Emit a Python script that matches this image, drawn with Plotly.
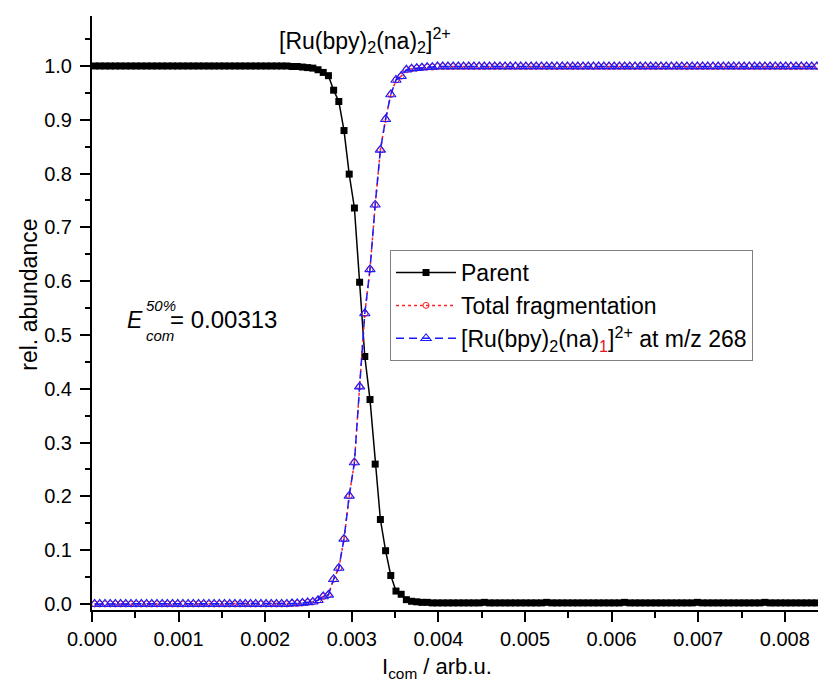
import plotly.graph_objects as go

# Collision energy grid, in units of 1e-5 arb.u.
i_com_e5 = [
    3, 9, 15, 21, 27, 33, 39, 45, 51, 57,
    63, 69, 75, 81, 87, 93, 99, 105, 111, 117,
    123, 129, 135, 141, 147, 153, 159, 165, 171, 177,
    183, 189, 195, 201, 207, 213, 219, 225, 231, 237,
    243, 249, 255, 261, 267, 273, 279, 285, 291, 297,
    303, 309, 315, 321, 327, 333, 339, 345, 351, 357,
    363, 369, 375, 381, 387, 393, 399, 405, 411, 417,
    423, 429, 435, 441, 447, 453, 459, 465, 471, 477,
    483, 489, 495, 501, 507, 513, 519, 525, 531, 537,
    543, 549, 555, 561, 567, 573, 579, 585, 591, 597,
    603, 609, 615, 621, 627, 633, 639, 645, 651, 657,
    663, 669, 675, 681, 687, 693, 699, 705, 711, 717,
    723, 729, 735, 741, 747, 753, 759, 765, 771, 777,
    783, 789, 795, 801, 807, 813, 819, 825, 831, 837,
]
i_com = [v * 1e-5 for v in i_com_e5]

parent = [
    1.0, 1.0, 1.0, 1.0, 1.0, 1.0, 1.0, 1.0, 1.0, 1.0,
    1.0, 1.0, 1.0, 1.0, 1.0, 1.0, 1.0, 1.0, 1.0, 1.0,
    1.0, 1.0, 1.0, 1.0, 1.0, 1.0, 1.0, 1.0, 1.0, 1.0,
    1.0, 1.0, 1.0, 1.0, 1.0, 1.0, 1.0, 1.0, 0.999, 0.999,
    0.998, 0.997, 0.996, 0.993, 0.988, 0.982, 0.955, 0.934, 0.880, 0.799,
    0.736, 0.598, 0.460, 0.380, 0.260, 0.157, 0.099, 0.053, 0.024, 0.018,
    0.008, 0.005, 0.004, 0.003, 0.003, 0.002, 0.002, 0.002, 0.002, 0.002,
    0.002, 0.002, 0.002, 0.002, 0.002, 0.003, 0.002, 0.002, 0.002, 0.002,
    0.002, 0.002, 0.002, 0.002, 0.002, 0.002, 0.002, 0.003, 0.002, 0.002,
    0.002, 0.002, 0.002, 0.002, 0.002, 0.002, 0.002, 0.002, 0.002, 0.002,
    0.002, 0.002, 0.003, 0.002, 0.002, 0.002, 0.002, 0.002, 0.002, 0.002,
    0.002, 0.002, 0.002, 0.002, 0.002, 0.002, 0.003, 0.002, 0.002, 0.002,
    0.002, 0.002, 0.002, 0.002, 0.002, 0.002, 0.002, 0.002, 0.002, 0.003,
    0.002, 0.002, 0.002, 0.002, 0.002, 0.002, 0.002, 0.002, 0.002, 0.002,
]

total_fragmentation = [
    0.0, 0.0, 0.0, 0.0, 0.0, 0.0, 0.0, 0.0, 0.0, 0.0,
    0.0, 0.0, 0.0, 0.0, 0.0, 0.0, 0.0, 0.0, 0.0, 0.0,
    0.0, 0.0, 0.0, 0.0, 0.0, 0.0, 0.0, 0.0, 0.0, 0.0,
    0.0, 0.0, 0.0, 0.0, 0.0, 0.0, 0.0, 0.0, 0.001, 0.001,
    0.002, 0.003, 0.004, 0.007, 0.014, 0.017, 0.046, 0.067, 0.121, 0.201,
    0.263, 0.404, 0.540, 0.622, 0.742, 0.844, 0.901, 0.947, 0.974, 0.981,
    0.993, 0.995, 0.996, 0.997, 0.998, 0.998, 0.999, 0.999, 0.999, 0.999,
    0.999, 0.999, 0.999, 0.999, 0.999, 0.999, 0.999, 0.999, 0.999, 0.999,
    0.999, 0.999, 0.999, 0.999, 0.999, 0.999, 0.999, 0.999, 0.999, 0.999,
    0.999, 0.999, 0.999, 0.999, 0.999, 0.999, 0.999, 0.999, 0.999, 0.999,
    0.999, 0.999, 0.999, 0.999, 0.999, 0.999, 0.999, 0.999, 0.999, 0.999,
    0.999, 0.999, 0.999, 0.999, 0.999, 0.999, 0.999, 0.999, 0.999, 0.999,
    0.999, 0.999, 0.999, 0.999, 0.999, 0.999, 0.999, 0.999, 0.999, 0.999,
    0.999, 0.999, 0.999, 0.999, 0.999, 0.999, 0.999, 0.999, 0.999, 0.999,
]

fragment_268 = [
    0.0, 0.0, 0.0, 0.0, 0.0, 0.0, 0.0, 0.0, 0.0, 0.0,
    0.0, 0.0, 0.0, 0.0, 0.0, 0.0, 0.0, 0.0, 0.0, 0.0,
    0.0, 0.0, 0.0, 0.0, 0.0, 0.0, 0.0, 0.0, 0.0, 0.0,
    0.0, 0.0, 0.0, 0.0, 0.0, 0.0, 0.0, 0.0, 0.001, 0.001,
    0.002, 0.003, 0.004, 0.007, 0.014, 0.017, 0.046, 0.067, 0.121, 0.201,
    0.263, 0.404, 0.540, 0.622, 0.742, 0.844, 0.901, 0.947, 0.974, 0.981,
    0.993, 0.995, 0.996, 0.997, 0.998, 0.998, 0.999, 0.999, 0.999, 0.999,
    0.999, 0.999, 0.999, 0.999, 0.999, 0.999, 0.999, 0.999, 0.999, 0.999,
    0.999, 0.999, 0.999, 0.999, 0.999, 0.999, 0.999, 0.999, 0.999, 0.999,
    0.999, 0.999, 0.999, 0.999, 0.999, 0.999, 0.999, 0.999, 0.999, 0.999,
    0.999, 0.999, 0.999, 0.999, 0.999, 0.999, 0.999, 0.999, 0.999, 0.999,
    0.999, 0.999, 0.999, 0.999, 0.999, 0.999, 0.999, 0.999, 0.999, 0.999,
    0.999, 0.999, 0.999, 0.999, 0.999, 0.999, 0.999, 0.999, 0.999, 0.999,
    0.999, 0.999, 0.999, 0.999, 0.999, 0.999, 0.999, 0.999, 0.999, 0.999,
]

series_names = [
    "Parent",
    "Total fragmentation",
    "[Ru(bpy)<sub>2</sub>(na)<sub><span style='color:#e8141c'>1</span></sub>]<sup>2+</sup> at m/z 268",
]
e50_value = "0.00313"
complex_label = "[Ru(bpy)<sub>2</sub>(na)<sub>2</sub>]<sup>2+</sup>"
x_title = "I<sub>com</sub> / arb.u."
y_title = "rel. abundance"

FONT = "Liberation Sans, Arial, sans-serif"
X_RANGE = [0, 0.008383]
Y_RANGE = [-0.0112, 1.0929]

fig = go.Figure()

fig.add_trace(go.Scatter(
    x=i_com, y=parent, name=series_names[0], mode="lines+markers",
    line=dict(color="black", width=1.5),
    marker=dict(symbol="square", size=7, color="black"),
))
fig.add_trace(go.Scatter(
    x=i_com, y=total_fragmentation, name=series_names[1], mode="lines+markers",
    line=dict(color="#ff2020", width=1.5, dash="dot"),
    marker=dict(symbol="circle-open", size=6, color="#ff2020", line=dict(width=1)),
))
fig.add_trace(go.Scatter(
    x=i_com, y=fragment_268, name=series_names[2], mode="lines+markers",
    line=dict(color="#1a1aff", width=1.5, dash="8px,5px"),
    marker=dict(symbol="triangle-up-open", size=9, color="#1a1aff", line=dict(width=1.1)),
))

axis_common = dict(
    showline=True, linecolor="black", linewidth=2,
    showgrid=False, zeroline=False,
    tickcolor="black", tickwidth=2,
)

fig.update_layout(
    width=818, height=684,
    margin=dict(l=92, r=0, t=16, b=74),
    paper_bgcolor="white", plot_bgcolor="white",
    font=dict(family=FONT, color="black"),
    xaxis=dict(
        range=X_RANGE, tick0=0, dtick=0.001, tickformat=".3f",
        ticks="outside", ticklen=10,
        minor=dict(dtick=0.0005, ticks="outside", ticklen=6, tickwidth=2, tickcolor="black"),
        tickfont=dict(size=20),
        **axis_common,
    ),
    xaxis2=dict(
        range=X_RANGE, overlaying="x", side="top", anchor="y",
        tick0=0, dtick=0.001, ticks="inside", ticklen=12, showticklabels=False,
        minor=dict(dtick=0.0005, ticks="inside", ticklen=6, tickwidth=2, tickcolor="black"),
        **axis_common,
    ),
    yaxis=dict(
        range=Y_RANGE, tick0=0, dtick=0.1, tickformat=".1f",
        ticks="outside", ticklen=10, ticklabelstandoff=4,
        minor=dict(dtick=0.05, ticks="outside", ticklen=5, tickwidth=2, tickcolor="black"),
        tickfont=dict(size=20),
        **axis_common,
    ),
    legend=dict(
        x=0.4105, y=0.606, xanchor="left", yanchor="top",
        bgcolor="white", bordercolor="#808080", borderwidth=1,
        font=dict(size=23), tracegroupgap=0, itemwidth=60,
    ),
    showlegend=True,
)

# Axis titles
fig.add_annotation(
    text=x_title, x=0.475, y=-0.098, xref="paper", yref="paper",
    xanchor="center", yanchor="middle", showarrow=False, font=dict(size=22),
)
fig.add_annotation(
    text=y_title, x=-0.088, y=0.531, xref="paper", yref="paper",
    xanchor="center", yanchor="middle", textangle=-90, showarrow=False,
    font=dict(size=23),
)

# Complex label above the curves
fig.add_annotation(
    text=complex_label, x=0.00315, y=1.048, xref="x", yref="y",
    showarrow=False, font=dict(size=23),
)

# Half-fragmentation energy, built from stacked super/subscripts
fig.add_annotation(text="<i>E</i>", x=0.000380, y=0.528, xref="x", yref="y",
                   xanchor="left", showarrow=False, font=dict(size=23))
fig.add_annotation(text="<i>50%</i>", x=0.000600, y=0.555, xref="x", yref="y",
                   xanchor="left", showarrow=False, font=dict(size=15))
fig.add_annotation(text="<i>com</i>", x=0.000600, y=0.499, xref="x", yref="y",
                   xanchor="left", showarrow=False, font=dict(size=15))
fig.add_annotation(text="= " + e50_value, x=0.000880, y=0.528, xref="x", yref="y",
                   xanchor="left", showarrow=False, font=dict(size=24))

fig.write_html("out.html")
